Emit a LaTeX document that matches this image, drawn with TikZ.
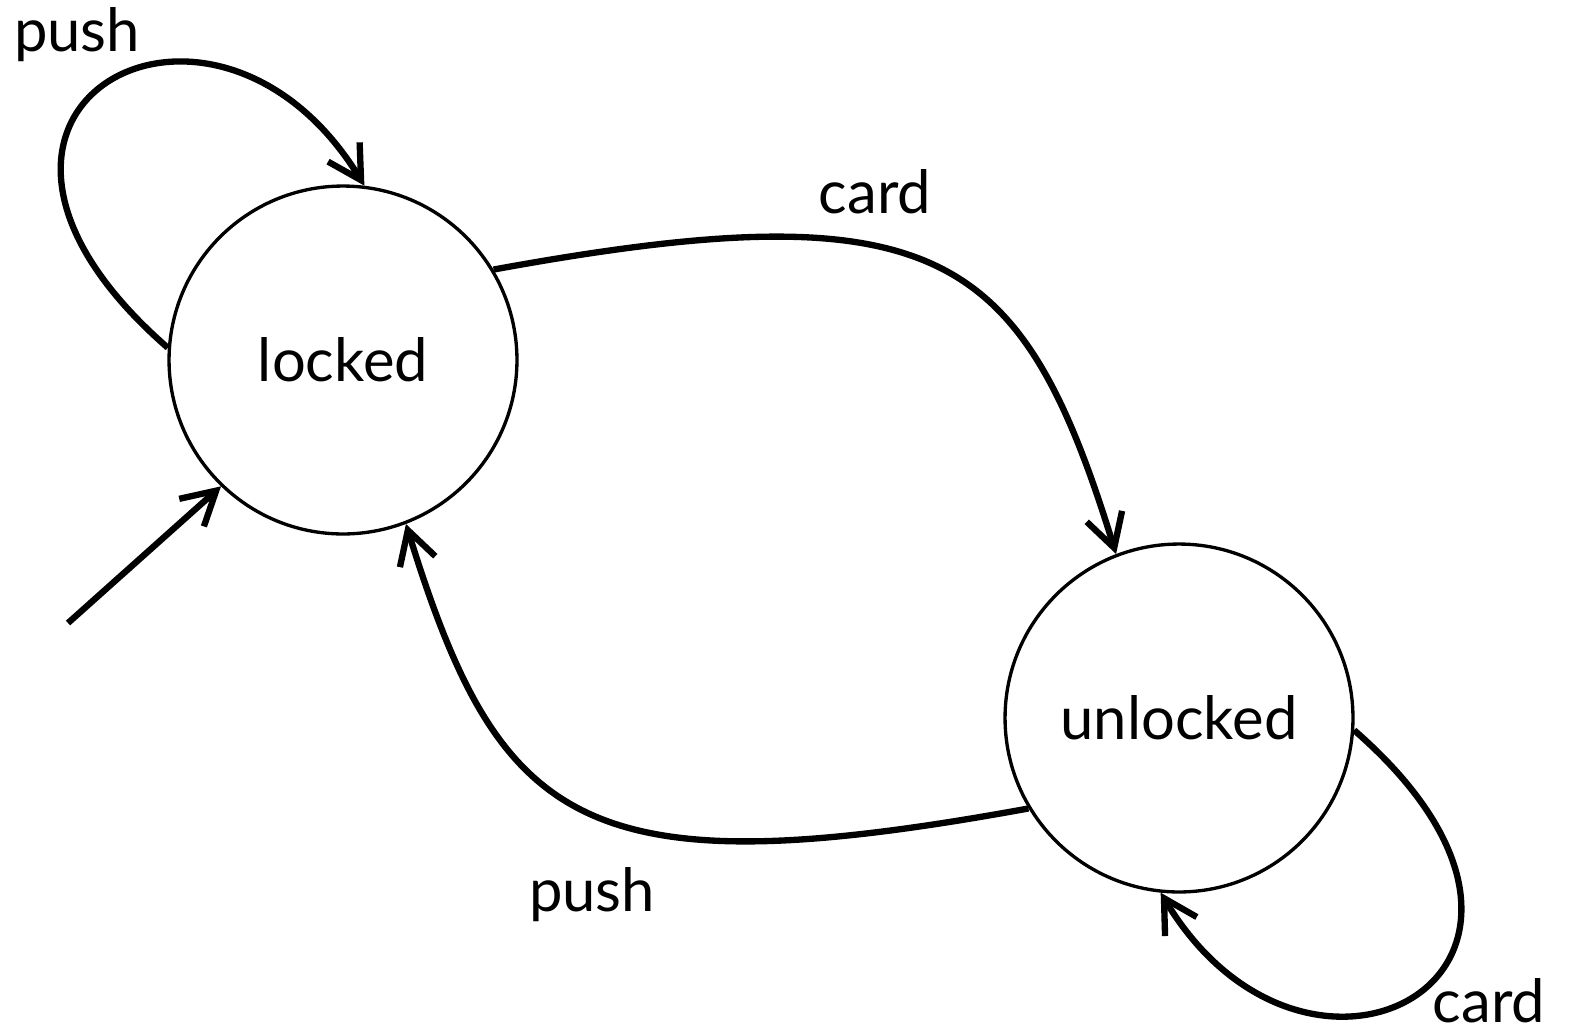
\documentclass[tikz,border=0pt]{standalone}
\usepackage{fontspec}
\setmainfont{Lato}
\usetikzlibrary{arrows.meta}
\tikzset{
  state/.style={circle, draw, line width=1.9pt, minimum size=6.96cm, inner sep=0pt, font=\fontsize{34}{40}\selectfont},
  edge/.style={line width=3.6pt, -{Straight Barb[length=0.66cm, width=0.74cm, line width=3.6pt]}},
  lbl/.style={font=\fontsize{34}{40}\selectfont, inner sep=0pt}
}
\begin{document}
\begin{tikzpicture}[x=0.02cm, y=-0.02cm]
\useasboundingbox (0,0) rectangle (1577,1035);
\node[state] (locked) at (343,360) {locked};
\node[state] (unlocked) at (1179,718) {unlocked};
\coordinate (init) at (68,623);
\node[lbl] (l1) at (77,35) {push};
\node[lbl] (l2) at (875,192) {card};
\node[lbl] (l3) at (592,895) {push};
\node[lbl] (l4) at (1489,1001) {card};
% self loop on locked
\draw[edge] (locked.176) .. controls (-105,110) and (212,-64) .. (locked.83.5);
% initial
\draw[edge] (init) -- (locked.-134);
% card
\draw[edge] (locked.31) .. controls (940,188) and (1022,250) .. (unlocked.111);
% push
\draw[edge] (unlocked.211) .. controls (582,890) and (500,828) .. (locked.-69);
% self loop on unlocked
\draw[edge] (unlocked.-4) .. controls (1627,968) and (1310,1142) .. (unlocked.-96.5);
\end{tikzpicture}
\end{document}
